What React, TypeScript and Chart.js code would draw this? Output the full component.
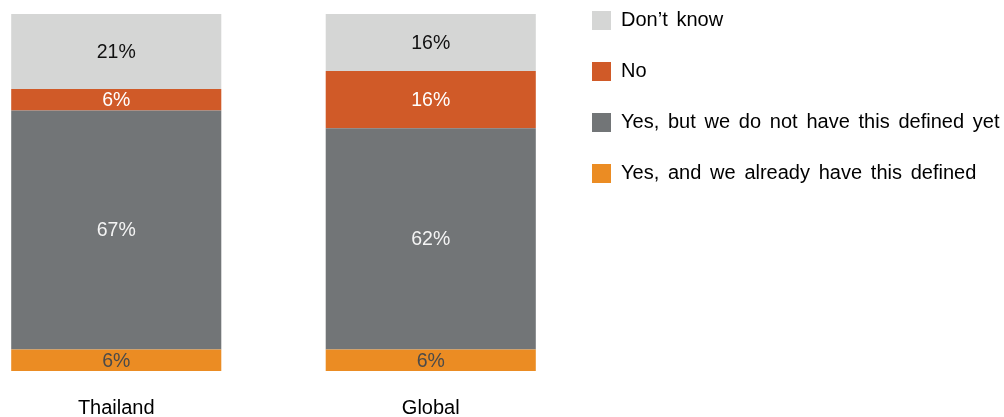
import React, { useEffect, useRef } from "react";
import { Chart, registerables } from "chart.js";

Chart.register(...registerables);

const categories = ["Thailand", "Global"];
const seriesNames = [
  "Yes, and we already have this defined",
  "Yes, but we do not have this defined yet",
  "No",
  "Don\u2019t know",
];
const yesDefined = [6, 6];
const yesNotDefined = [67, 62];
const noValues = [6, 16];
const dontKnow = [21, 16];
const seriesColors = ["#EB8C23", "#727577", "#D05A28", "#D5D6D5"];
const labelColors = ["#4a4a4a", "#f4f4f4", "#ffffff", "#111111"];

const FONT = "'Liberation Sans', Arial, sans-serif";
const SHIFT = 41;

const dataLabelPlugin = {
  id: "dataLabels",
  afterDatasetsDraw(chart: any) {
    const ctx = chart.ctx;
    ctx.save();
    ctx.font = `19.5px ${FONT}`;
    ctx.textAlign = "center";
    ctx.textBaseline = "middle";
    chart.data.datasets.forEach((ds: any, di: number) => {
      const meta = chart.getDatasetMeta(di);
      meta.data.forEach((bar: any, i: number) => {
        const v = ds.data[i];
        const { x, y, base } = bar.getProps(["x", "y", "base"], true);
        ctx.fillStyle = labelColors[di];
        ctx.fillText(`${v}%`, x, (y + base) / 2 + 1);
      });
    });
    ctx.restore();
  },
};

const legendPlacePlugin = {
  id: "legendPlace",
  afterLayout(chart: any) {
    const l = chart.legend;
    if (!l) return;
    const pad = 31;
    const h = 417;
    l.left = 592 + SHIFT - pad;
    l.right = chart.width;
    l.width = l.right - l.left;
    l.top = 10.5 - pad;
    l.bottom = l.top + h;
    l.height = h;
  },
  beforeDraw(chart: any) {
    (chart.ctx as any).wordSpacing = "3.2px";
  },
  afterDraw(chart: any) {
    (chart.ctx as any).wordSpacing = "0px";
  },
};

export default function App() {
  const ref = useRef<HTMLCanvasElement | null>(null);
  useEffect(() => {
    document.body.style.margin = "0";
    if (!ref.current) return;
    const chart = new Chart(ref.current, {
      type: "bar",
      data: {
        labels: categories,
        datasets: [yesDefined, yesNotDefined, noValues, dontKnow].map((d, i) => ({
          label: seriesNames[i],
          data: d,
          backgroundColor: seriesColors[i],
          borderWidth: 0,
          categoryPercentage: 1,
          barPercentage: 0.668,
        })),
      },
      options: {
        animation: false,
        responsive: true,
        maintainAspectRatio: false,
        layout: { padding: { top: 14, left: 0, right: 416, bottom: 0 } },
        scales: {
          x: {
            stacked: true,
            grid: { display: false, drawTicks: false },
            border: { display: false },
            ticks: { color: "#000", font: { family: FONT, size: 20 }, padding: 25 },
            afterFit: (scale: any) => {
              scale.height = 46;
            },
          },
          y: { stacked: true, display: false, min: 0, max: 100 },
        },
        plugins: {
          tooltip: { enabled: false },
          legend: {
            position: "chartArea",
            align: "start",
            reverse: true,
            labels: {
              boxWidth: 19,
              boxHeight: 19,
              padding: 31,
              color: "#000",
              font: { family: FONT, size: 20 },
            },
          },
        },
      },
      plugins: [dataLabelPlugin, legendPlacePlugin],
    });
    return () => chart.destroy();
  }, []);
  return (
    <div style={{ width: 1004, height: 417, overflow: "hidden", position: "relative" }}>
      <div style={{ position: "absolute", left: -SHIFT, top: 0, width: 1004 + SHIFT, height: 417 }}>
        <canvas ref={ref} />
      </div>
    </div>
  );
}
